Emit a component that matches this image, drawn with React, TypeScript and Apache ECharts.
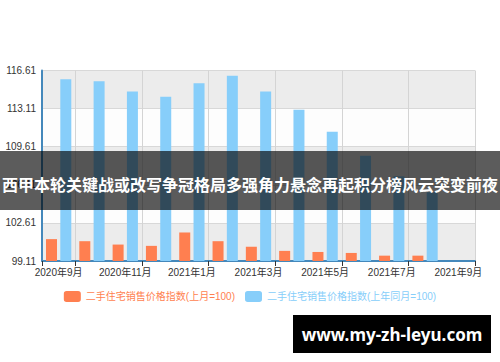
import React, { useEffect, useRef } from "react";
import * as echarts from "echarts";

const categories = [
  "2020年9月", "2020年10月", "2020年11月", "2020年12月", "2021年1月", "2021年2月",
  "2021年3月", "2021年4月", "2021年5月", "2021年6月", "2021年7月", "2021年8月", "2021年9月",
];
const seriesNames = ["二手住宅销售价格指数(上月=100)", "二手住宅销售价格指数(上年同月=100)"];
const monthOnMonth = [101.12, 100.93, 100.62, 100.5, 101.73, 100.93, 100.42, 100.04, 99.94, 99.85, 99.6, 99.6, null];
const yearOnYear = [115.8, 115.62, 114.69, 114.2, 115.43, 116.12, 114.69, 113.0, 110.99, 108.77, 106.89, 105.43, null];
const yMin = 99.11;
const yMax = 116.61;
const yStep = 3.5;
const bannerTitle = "西甲本轮关键战或改写争冠格局多强角力悬念再起积分榜风云突变前夜";
const siteText = "www.my-zh-leyu.com";

const FONT = "'Liberation Sans', Arial, 'Noto Sans CJK SC', sans-serif";
const ORANGE = "#ff7f50";
const BLUE = "#87cefa";

export default function App() {
  const ref = useRef<HTMLDivElement>(null);
  useEffect(() => {
    document.body.style.margin = "0";
    const chart = echarts.init(ref.current!, null, { renderer: "svg" });
    const shift = (arr: (number | null)[]) =>
      arr.map((v) => (v == null ? null : +(v - yMin).toFixed(4)));
    chart.setOption({
      animation: false,
      backgroundColor: "#fff",
      textStyle: { fontFamily: FONT },
      grid: { left: 42, right: 25, top: 70.5, bottom: 101, containLabel: false },
      legend: {
        top: 291,
        left: "center",
        padding: 0,
        itemWidth: 17,
        itemHeight: 11,
        itemGap: 10,
        textStyle: { fontSize: 10, fontFamily: FONT },
        data: [
          { name: seriesNames[0], textStyle: { color: ORANGE } },
          { name: seriesNames[1], textStyle: { color: BLUE } },
        ],
      },
      xAxis: {
        type: "category",
        data: categories,
        boundaryGap: true,
        axisLine: { lineStyle: { color: "#48b", width: 2 } },
        axisTick: {
          show: true,
          length: 5,
          lineStyle: { color: "#333" },
          interval: (i: number) => i === 0 || i % 2 === 1,
        },
        axisLabel: {
          interval: 1,
          color: "#333",
          fontSize: 10,
          margin: 6,
          fontFamily: FONT,
        },
        splitLine: {
          show: true,
          lineStyle: { color: "#d4d4d4" },
          interval: (i: number) => i === 0 || i % 2 === 1,
        },
      },
      yAxis: {
        type: "value",
        min: 0,
        max: +(yMax - yMin).toFixed(4),
        interval: yStep,
        axisLine: { show: true, lineStyle: { color: "#48b", width: 2 } },
        axisTick: { show: false },
        axisLabel: {
          color: "#333",
          fontSize: 10,
          margin: 6,
          fontFamily: FONT,
          formatter: (v: number) => (v + yMin).toFixed(2),
        },
        splitLine: { show: true, lineStyle: { color: "#d8d8d8" } },
        splitArea: {
          show: true,
          areaStyle: { color: ["rgba(200,200,200,0.35)", "rgba(250,250,250,0.4)"] },
        },
      },
      series: [
        {
          name: seriesNames[0],
          type: "bar",
          data: shift(monthOnMonth),
          barWidth: 11,
          barGap: "30%",
          itemStyle: { color: ORANGE },
        },
        {
          name: seriesNames[1],
          type: "bar",
          data: shift(yearOnYear),
          barWidth: 11,
          barGap: "30%",
          itemStyle: { color: BLUE },
        },
      ],
      graphic: [
        {
          type: "rect",
          shape: { x: 0, y: 151, width: 500, height: 59 },
          style: { fill: "rgba(0,0,0,0.64)" },
          z: 100,
        },
        {
          type: "text",
          x: 250,
          y: 184,
          z: 101,
          style: {
            text: bannerTitle,
            fill: "#fff",
            font: "bold 16px 'Noto Sans CJK SC', sans-serif",
            align: "center",
            verticalAlign: "middle",
          },
        },
        {
          type: "rect",
          shape: { x: 293, y: 315, width: 198, height: 38 },
          style: { fill: "#000" },
          z: 100,
        },
        {
          type: "text",
          x: 392,
          y: 334,
          z: 101,
          style: {
            text: siteText,
            fill: "#fff",
            font: "bold 17px 'Noto Sans', 'DejaVu Sans', sans-serif",
            align: "center",
            verticalAlign: "middle",
          },
        },
      ],
    });
    return () => chart.dispose();
  }, []);
  return <div ref={ref} style={{ width: 500, height: 362 }} />;
}
